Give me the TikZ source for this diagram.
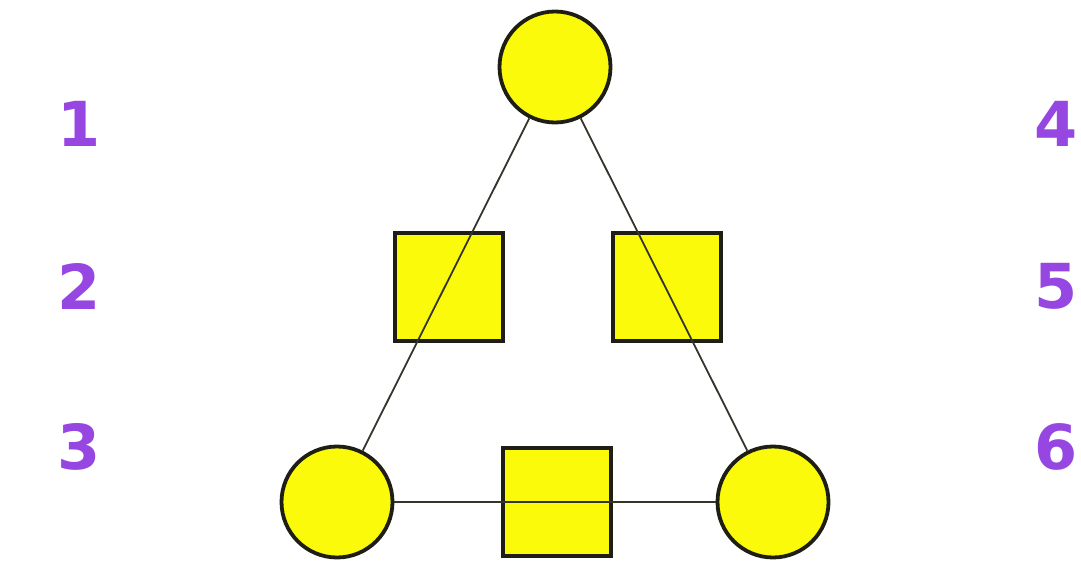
\documentclass[tikz,border=0pt]{standalone}
\usepackage{fontspec}
\setmainfont{DejaVu Sans}
\usetikzlibrary{positioning}
\definecolor{Lemon}{RGB}{250,250,10}
\definecolor{Violet}{RGB}{150,70,225}
\definecolor{Ink}{RGB}{30,30,20}

\begin{document}
\begin{tikzpicture}[x=1pt,y=1pt,
 c/.style={circle,draw=Ink,fill=Lemon,line width=3.8pt,minimum size=111pt,inner sep=0pt},
 s/.style={rectangle,draw=Ink,fill=Lemon,line width=4.2pt,minimum size=108pt,inner sep=0pt},
 l/.style={line width=1.8pt,Ink!90},
 num/.style={text=Violet,font=\fontsize{62}{62}\selectfont\bfseries,inner sep=0pt}]
\useasboundingbox (0,0) rectangle (1081,-586);
\node[c] (top) at (555,-67) {};
\node[c,on grid,below left=435pt and 218pt of top] (bl) {};
\node[c,on grid,below right=435pt and 218pt of top] (br) {};
\node[s,on grid,below left=220pt and 106pt of top] (sqa) {};
\node[s,on grid,below right=220pt and 112pt of top] (sqb) {};
\node[s,on grid,right=220pt of bl] (sqc) {};
\draw[l] (top)--(bl);\draw[l] (top)--(br);\draw[l] (bl)--(br);
% row labels
\node[num] (n1) at (79,-124) {1};
\node[num,on grid,below=162pt of n1] (n2) {2};
\node[num,on grid,below=161pt of n2] (n3) {3};
\node[num] (n4) at (1056,-124) {4};
\node[num,on grid,below=162pt of n4] (n5) {5};
\node[num,on grid,below=161pt of n5] (n6) {6};
\end{tikzpicture}
\end{document}
